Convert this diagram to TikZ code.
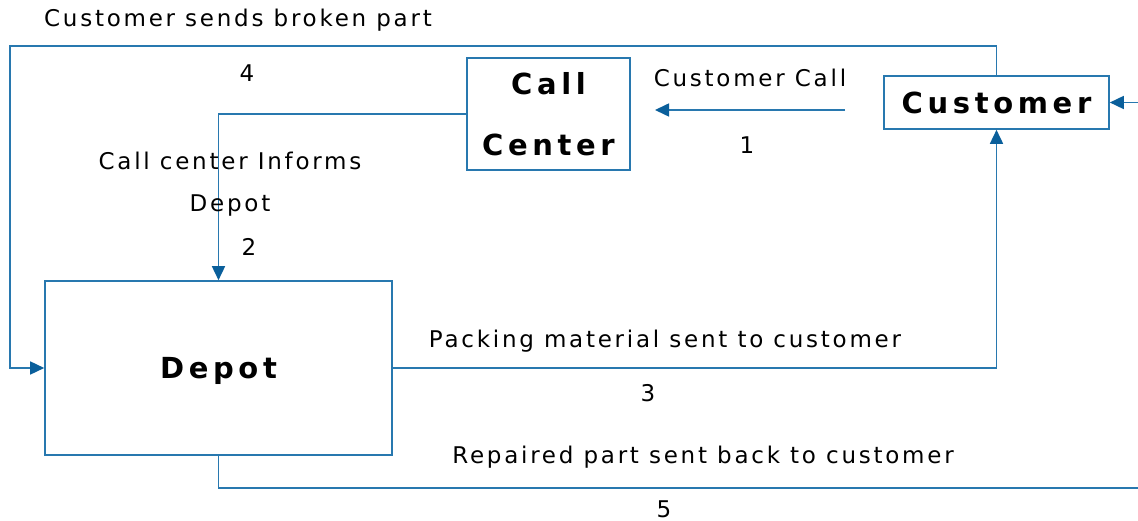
\documentclass[tikz,border=0pt]{standalone}
\usepackage{fontspec}
\setmainfont{DejaVu Sans}
\newfontfamily\lbl[LetterSpace=12]{DejaVu Sans}
\newfontfamily\ttl[LetterSpace=16]{DejaVu Sans Bold}
\usetikzlibrary{arrows.meta}
\definecolor{lineblue}{RGB}{40,120,175}
\definecolor{tipblue}{RGB}{10,95,155}
\tikzset{
  box/.style={draw=lineblue,line width=1.6pt,inner sep=0pt,align=center,font=\ttl\fontsize{29}{61}\selectfont},
  flow/.style={draw=lineblue,line width=1.6pt},
  arr/.style={flow,-{Triangle[width=13pt,length=14pt,color=tipblue]}},
  txt/.style={inner sep=0pt,font=\lbl\fontsize{23}{42}\selectfont,align=center}
}
\begin{document}
\begin{tikzpicture}[x=1pt,y=-1pt]
\useasboundingbox (0,0) rectangle (1138,521);
\fill[white] (0,0) rectangle (1138,521);
\node[box,minimum width=225pt,minimum height=53pt] (cust) at (996.5,102.5) {Customer};
\node[box,minimum width=163pt,minimum height=112pt] (cc) at (548.5,114) {Call\\Center};
\node[box,minimum width=347pt,minimum height=174pt,text depth=0pt] (depot) at (218.5,368) {Depot};
% 1
\coordinate (c1s) at (845,110);
\coordinate (c1e) at (655,110);
\draw[arr] (c1s) -- (c1e);
\node[txt] (t1) at (750,78) {Customer Call};
\node[txt] (n1) at (747,145) {1};
% 2
\draw[arr] (cc.west) -| (depot.north);
\node[txt] (t2) at (230,184) {Call center Informs\\Depot};
\node[txt] (n2) at (249,247) {2};
% 3
\draw[arr] (depot.east) -| (cust.south);
\node[txt] (t3) at (665,341) {Packing material sent to customer};
\node[txt] (n3) at (648,393) {3};
% 4
\coordinate (c4) at (10,46);
\draw[arr] (cust.north) |- (c4) |- (depot.west);
\node[txt] (t4) at (238,20) {Customer sends broken part};
\node[txt] (n4) at (247,73) {4};
% 5
\coordinate (c5) at (1138,488);
\draw[flow] (depot.south) |- (c5);
\node[txt] (t5) at (703,457) {Repaired part sent back to customer};
\node[txt] (n5) at (664,509) {5};
% return into customer
\coordinate (c6) at (1138,102.5);
\draw[arr] (c6) -- (cust.east);
\end{tikzpicture}
\end{document}
